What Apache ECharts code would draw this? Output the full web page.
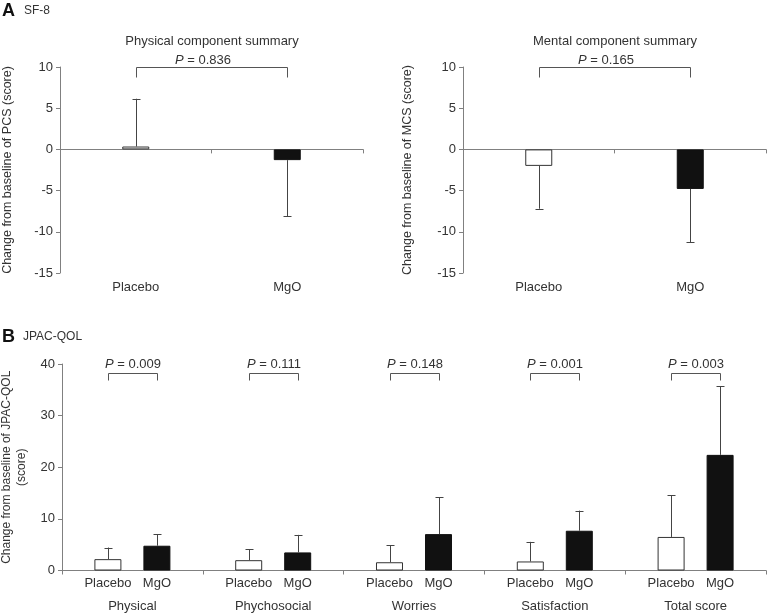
<!DOCTYPE html>
<html><head><meta charset="utf-8">
<script src="https://cdn.jsdelivr.net/npm/echarts@6/dist/echarts.min.js"></script>
<style>html,body{margin:0;padding:0;background:#fff}#c{width:767px;height:614px}</style>
</head><body><div id="c"></div>
<script>
// ---- Panel A: SF-8 ----
const sfCategories = ['Placebo', 'MgO'];
const pcsMean = [0.35, -1.3];
const pcsSD = [5.8, 6.8];
const mcsMean = [-2.0, -4.8];
const mcsSD = [5.2, 6.45];
const pcsP = '0.836';
const mcsP = '0.165';
const sfTickMin = -15, sfTickMax = 10, sfTickStep = 5;

// ---- Panel B: JPAC-QOL ----
const qolGroups = ['Physical', 'Phychosocial', 'Worries', 'Satisfaction', 'Total score'];
const qolPlaceboMean = [2.2, 2.0, 1.6, 1.75, 6.5];
const qolPlaceboSD = [2.25, 2.15, 3.25, 3.8, 8.1];
const qolMgoMean = [4.8, 3.5, 7.05, 7.7, 22.4];
const qolMgoSD = [2.2, 3.4, 7.1, 3.9, 13.3];
const qolP = ['0.009', '0.111', '0.148', '0.001', '0.003'];
const qolTickMin = 0, qolTickMax = 40, qolTickStep = 10;

const FONT = '"Liberation Sans", Arial, Helvetica, sans-serif';
const TXT = '#333';
const AX = '#808080';
const ERR = '#444';
const barW = 27, barGapPx = 22;
const pairOffset = (barW + barGapPx) / 2;

const whiteBar = { color: '#fff', borderColor: '#333', borderWidth: 1 };
const blackBar = { color: '#111', borderColor: '#111', borderWidth: 1 };

function errorSeries(xIdx, yIdx, means, sds, dx) {
  return {
    type: 'custom', xAxisIndex: xIdx, yAxisIndex: yIdx, z: 5, silent: true,
    data: means.map((m, i) => [i, m, sds[i]]),
    renderItem(params, api) {
      const i = api.value(0), m = api.value(1), s = api.value(2);
      const end = m >= 0 ? m + s : m - s;
      const p0 = api.coord([i, m]), p1 = api.coord([i, end]);
      const x = Math.round(p0[0] + dx) + 0.5;
      return { type: 'group', children: [
        { type: 'line', shape: { x1: x, y1: p0[1], x2: x, y2: p1[1] }, style: { stroke: ERR, lineWidth: 1 } },
        { type: 'line', shape: { x1: x - 4, y1: Math.round(p1[1]) + 0.5, x2: x + 4, y2: Math.round(p1[1]) + 0.5 }, style: { stroke: ERR, lineWidth: 1 } }
      ]};
    }
  };
}

function bracketSeries(xIdx, yIdx, pTexts, level, leg, textGap, textDx, pairMode) {
  return {
    type: 'custom', xAxisIndex: xIdx, yAxisIndex: yIdx, z: 6, silent: true,
    data: pTexts.map((p, i) => [i, level]),
    renderItem(params, api) {
      const i = api.value(0), lv = api.value(1);
      let xl, xr, y;
      if (pairMode) {
        const c = api.coord([i, lv]);
        xl = c[0] - pairOffset; xr = c[0] + pairOffset; y = c[1];
      } else {
        const a = api.coord([0, lv]), b = api.coord([1, lv]);
        xl = a[0]; xr = b[0]; y = a[1];
      }
      xl = Math.round(xl) + 0.5; xr = Math.round(xr) + 0.5; y = Math.round(y) + 0.5;
      const st = { stroke: '#555', lineWidth: 1 };
      return { type: 'group', children: [
        { type: 'line', shape: { x1: xl, y1: y, x2: xr, y2: y }, style: st },
        { type: 'line', shape: { x1: xl, y1: y, x2: xl, y2: y + leg }, style: st },
        { type: 'line', shape: { x1: xr, y1: y, x2: xr, y2: y + leg }, style: st },
        { type: 'text', x: (xl + xr) / 2 + textDx, y: y - textGap,
          style: { text: '{i|P} = ' + pTexts[params.dataIndex],
            align: 'center', verticalAlign: 'middle', textAlign: 'center', textVerticalAlign: 'middle',
            fill: TXT, fontSize: 13, fontFamily: FONT,
            rich: { i: { fontStyle: 'italic', fontSize: 13, fontFamily: FONT, fill: TXT } } } }
      ]};
    }
  };
}

function yAxisCfg(gridIdx, min, max, step, name, gap, nameSize) {
  return {
    type: 'value', gridIndex: gridIdx, min: min, max: max, interval: step,
    name: name, nameLocation: 'middle', nameRotate: 90, nameGap: gap,
    nameTextStyle: { color: TXT, fontSize: nameSize, fontFamily: FONT, lineHeight: 15 },
    axisLine: { show: true, lineStyle: { color: AX, width: 1 } },
    axisTick: { show: true, length: 4, lineStyle: { color: AX } },
    axisLabel: { color: TXT, fontSize: 13, fontFamily: FONT, margin: 7 },
    splitLine: { show: false }
  };
}

function sfXAxes(gridIdx) {
  return [
    { type: 'category', gridIndex: gridIdx, data: sfCategories, position: 'bottom',
      axisLine: { show: false, onZero: false }, axisTick: { show: false },
      axisLabel: { color: TXT, fontSize: 13, fontFamily: FONT, margin: 8 } },
    { type: 'category', gridIndex: gridIdx, data: sfCategories, position: 'top',
      axisLine: { show: true, onZero: true, lineStyle: { color: AX, width: 1 } },
      axisTick: { show: true, inside: true, length: 4, lineStyle: { color: AX } },
      axisLabel: { show: false } }
  ];
}

function sfBars(xIdx, yIdx, means) {
  return {
    type: 'bar', xAxisIndex: xIdx, yAxisIndex: yIdx, barWidth: barW, z: 3, silent: true,
    data: means.map((v, i) => ({ value: v, itemStyle: i === 0 ? whiteBar : blackBar }))
  };
}

const chart = echarts.init(document.getElementById('c'), null, { renderer: 'canvas' });

const xAxes = [].concat(sfXAxes(0), sfXAxes(1), [{
  type: 'category', gridIndex: 2, data: qolGroups,
  axisLine: { show: true, lineStyle: { color: AX, width: 1 } },
  axisTick: { show: true, length: 4, lineStyle: { color: AX } },
  axisLabel: { color: TXT, fontSize: 13, fontFamily: FONT, margin: 29 }
}]);

const gridBase = { containLabel: false, outerBoundsMode: 'none' };

const option = {
  animation: false,
  backgroundColor: '#fff',
  textStyle: { fontFamily: FONT },
  grid: [
    Object.assign({ left: 60, right: 404, top: 67, height: 206 }, gridBase),
    Object.assign({ left: 463, right: 1, top: 67, height: 206 }, gridBase),
    Object.assign({ left: 62, right: 1, top: 364, height: 206.5 }, gridBase)
  ],
  xAxis: xAxes,
  yAxis: [
    yAxisCfg(0, sfTickMin, sfTickMax, sfTickStep, 'Change from baseline of PCS (score)', 45, 12.5),
    yAxisCfg(1, sfTickMin, sfTickMax, sfTickStep, 'Change from baseline of MCS (score)', 48, 12.5),
    yAxisCfg(2, qolTickMin, qolTickMax, qolTickStep, 'Change from baseline of JPAC-QOL\n(score)', 31, 12)
  ],
  graphic: [
    { type: 'text', x: 2, y: 2, style: { text: 'A', fill: '#111', font: 'bold 18px ' + FONT } },
    { type: 'text', x: 24, y: 5, style: { text: 'SF-8', fill: TXT, font: '12px ' + FONT } },
    { type: 'text', x: 2, y: 328, style: { text: 'B', fill: '#111', font: 'bold 18px ' + FONT } },
    { type: 'text', x: 23, y: 331, style: { text: 'JPAC-QOL', fill: TXT, font: '12px ' + FONT } },
    { type: 'text', x: 212, y: 41, style: { text: 'Physical component summary', fill: TXT, font: '13px ' + FONT,
      align: 'center', verticalAlign: 'middle', textAlign: 'center', textVerticalAlign: 'middle' } },
    { type: 'text', x: 615, y: 41, style: { text: 'Mental component summary', fill: TXT, font: '13px ' + FONT,
      align: 'center', verticalAlign: 'middle', textAlign: 'center', textVerticalAlign: 'middle' } }
  ],
  series: [
    sfBars(0, 0, pcsMean),
    errorSeries(0, 0, pcsMean, pcsSD, 0),
    bracketSeries(0, 0, [pcsP], sfTickMax, 10, 7, -9, false),
    sfBars(2, 1, mcsMean),
    errorSeries(2, 1, mcsMean, mcsSD, 0),
    bracketSeries(2, 1, [mcsP], sfTickMax, 10, 7, -9, false),
    { type: 'bar', name: 'Placebo', xAxisIndex: 4, yAxisIndex: 2, barWidth: barW,
      barGap: (barGapPx / barW * 100).toFixed(1) + '%', z: 3, silent: true,
      itemStyle: whiteBar, data: qolPlaceboMean,
      label: { show: true, position: 'bottom', distance: 6, formatter: 'Placebo', color: TXT, fontSize: 13, fontFamily: FONT } },
    { type: 'bar', name: 'MgO', xAxisIndex: 4, yAxisIndex: 2, barWidth: barW, z: 3, silent: true,
      itemStyle: blackBar, data: qolMgoMean,
      label: { show: true, position: 'bottom', distance: 6, formatter: 'MgO', color: TXT, fontSize: 13, fontFamily: FONT } },
    errorSeries(4, 2, qolPlaceboMean, qolPlaceboSD, -pairOffset),
    errorSeries(4, 2, qolMgoMean, qolMgoSD, pairOffset),
    bracketSeries(4, 2, qolP, 38.3, 7, 9, 0, true)
  ]
};
chart.setOption(option);
</script>
</body></html>
